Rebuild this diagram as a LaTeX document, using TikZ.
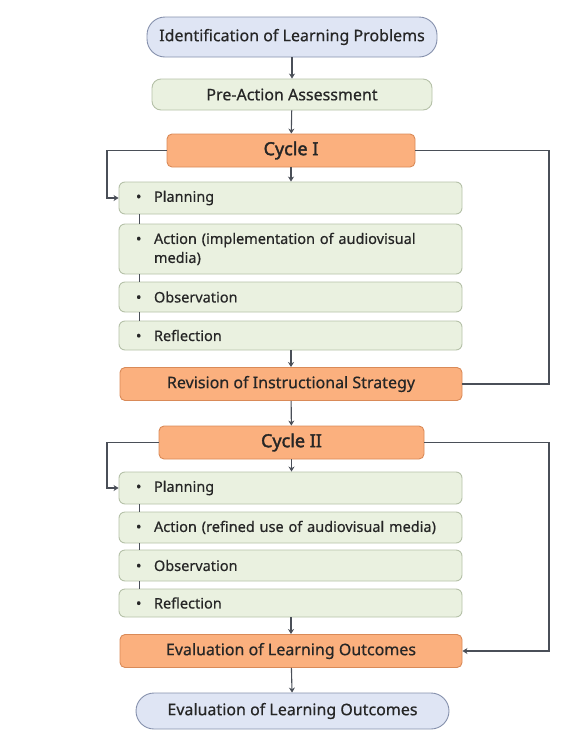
\documentclass[tikz,border=0pt]{standalone}
\usepackage{fontspec}
\setmainfont{Noto Sans}[FakeBold=0.5, BoldFont={Noto Sans}, BoldFeatures={FakeBold=2}]
\usetikzlibrary{arrows.meta}
\definecolor{termfill}{HTML}{DFE5F4}
\definecolor{termline}{HTML}{8590AC}
\definecolor{stepfill}{HTML}{EAF1E0}
\definecolor{stepline}{HTML}{B5C1A8}
\definecolor{cycfill}{HTML}{FBB07E}
\definecolor{cycline}{HTML}{D98A58}
\definecolor{linkcol}{HTML}{4A4F58}
\tikzset{
  terminal/.style={draw=termline, fill=termfill, rounded corners=18pt, line width=0.9pt,
    minimum height=#1, font=\fontsize{16}{19}\selectfont, text=black!85},
  phase/.style={draw=stepline, fill=stepfill, rounded corners=9pt, line width=0.9pt,
    minimum width=280pt, minimum height=31pt, font=\fontsize{16}{19}\selectfont, text=black!85},
  cycbox/.style={draw=cycline, fill=cycfill, rounded corners=5pt, line width=0.9pt,
    minimum height=33pt, text=black!85},
  itembox/.style={draw=stepline, fill=stepfill, rounded corners=6pt, line width=0.9pt,
    minimum width=343pt, text width=309pt, align=left, minimum height=#1,
    font=\fontsize{14.5}{19}\selectfont, text=black!85},
  arr/.style={draw=linkcol, line width=1.1pt, -{Stealth[length=5pt,width=6pt]}},
  link/.style={draw=linkcol, line width=1.1pt}
}
\newcommand{\bul}{\makebox[18pt][l]{\textbullet}}
\begin{document}
\begin{tikzpicture}[x=1pt,y=-1pt]
		\useasboundingbox (0,0) rectangle (576,737);
		\node[terminal=40pt, minimum width=290pt] (ident) at (292,37) {Identification of Learning Problems};
		\node[phase] (pre) at (292,94.5) {Pre-Action Assessment};
		\node[cycbox, minimum width=248pt, font=\fontsize{18}{20}\selectfont\bfseries] (cyc1) at (291,150.5) {Cycle I};
		\node[itembox=32pt] (plan1) at (290.5,198) {\bul Planning};
		\node[itembox=50pt] (act1) at (290.5,249) {\bul Action (implementation of audiovisual\\ \hspace*{18pt}media)};
		\node[itembox=30pt] (obs1) at (290.5,297) {\bul Observation};
		\node[itembox=29pt] (ref1) at (290.5,335.5) {\bul Reflection};
		\node[cycbox, minimum width=342pt, font=\fontsize{16}{19}\selectfont] (rev) at (291,384) {Revision of Instructional Strategy};
		\node[cycbox, minimum width=265pt, font=\fontsize{18}{20}\selectfont\bfseries] (cyc2) at (291.5,442.5) {Cycle II};
		\node[itembox=32pt] (plan2) at (290.5,488) {\bul Planning};
		\node[itembox=31pt] (act2) at (290.5,527.5) {\bul \mbox{Action (refined use of audiovisual media)}};
		\node[itembox=31pt] (obs2) at (290.5,565.5) {\bul Observation};
		\node[itembox=28pt] (ref2) at (290.5,603) {\bul Reflection};
		\node[cycbox, minimum width=342pt, font=\fontsize{16}{19}\selectfont] (eval) at (291,651) {Evaluation of Learning Outcomes};
		\node[terminal=36pt, minimum width=313pt] (final) at (292.5,711) {Evaluation of Learning Outcomes};
		\coordinate (loop1) at (107,150.5);
		\coordinate (back1) at (549,150.5);
		\coordinate (loop2) at (107,442.5);
		\coordinate (back2) at (549,442.5);
		\draw[arr] (ident) -- (pre);
		\draw[arr] (pre) -- (cyc1);
		\draw[arr] (cyc1) -- (cyc1 |- plan1.north);
		\draw[arr] (cyc1.west) -- (loop1) |- (plan1.west);
		\draw[link] (cyc1.east) -- (back1) |- (rev.east);
		\draw[arr] (ref1.south -| rev) -- (rev);
		\draw[arr] (rev) -- (cyc2);
		\draw[arr] (cyc2) -- (cyc2 |- plan2.north);
		\draw[arr] (cyc2.west) -- (loop2) |- (plan2.west);
		\draw[arr] (cyc2.east) -- (back2) |- (eval.east);
		\draw[arr] (ref2.south -| eval) -- (eval);
		\draw[arr] (eval) -- (final);
		\foreach \a/\b in {plan1/act1, act1/obs1, obs1/ref1, plan2/act2, act2/obs2, obs2/ref2}
			\draw[link] ([xshift=21pt]\a.south west) -- ([xshift=21pt]\b.north west);
	\end{tikzpicture}
\end{document}
